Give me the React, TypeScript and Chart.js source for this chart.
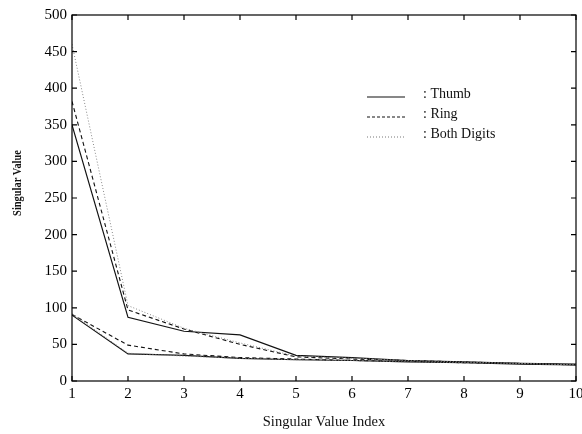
import React, { useEffect, useRef } from "react";
import { Chart, registerables } from "chart.js";

Chart.register(...registerables);

const indices = [1, 2, 3, 4, 5, 6, 7, 8, 9, 10];
const thumbUpper = [350, 87, 68, 63, 35, 32, 28, 26, 24, 23];
const ringUpper = [382, 97, 71, 50, 33, 30, 28, 26, 24, 22];
const bothUpper = [460, 103, 72, 52, 34, 31, 28, 26, 24, 22];
const thumbLower = [90, 37, 35, 31, 29, 28, 26, 25, 23, 22];
const ringLower = [91, 49, 37, 32, 30, 28, 27, 25, 24, 22];
const bothLower = [92, 38, 34, 31, 29, 28, 26, 25, 24, 22];
const legendLabels = [": Thumb", ": Ring", ": Both Digits"];
const yTitle = "Singular Value";
const xTitle = "Singular Value Index";

const FONT = "'Liberation Serif', 'DejaVu Serif', serif";

const toPts = (ys: number[]) => indices.map((x, i) => ({ x, y: ys[i] }));

const boxPlugin = {
  id: "boxTicks",
  afterDraw(chart: any) {
    const { ctx, chartArea, scales } = chart;
    const { left, right, top, bottom } = chartArea;
    ctx.save();
    ctx.strokeStyle = "#000";
    ctx.lineWidth = 1.2;
    ctx.strokeRect(left, top, right - left, bottom - top);
    const tl = 5;
    ctx.beginPath();
    for (const v of indices) {
      const px = scales.x.getPixelForValue(v);
      ctx.moveTo(px, bottom);
      ctx.lineTo(px, bottom - tl);
      ctx.moveTo(px, top);
      ctx.lineTo(px, top + tl);
    }
    for (let v = 0; v <= 500; v += 50) {
      const py = scales.y.getPixelForValue(v);
      ctx.moveTo(left, py);
      ctx.lineTo(left + tl, py);
      ctx.moveTo(right, py);
      ctx.lineTo(right - tl, py);
    }
    ctx.stroke();

    // legend
    const styles = [
      { dash: [], color: "#111", w: 1.2 },
      { dash: [3, 2], color: "#111", w: 1 },
      { dash: [1, 2], color: "#777", w: 1 },
    ];
    ctx.font = `14px ${FONT}`;
    ctx.textBaseline = "middle";
    ctx.fillStyle = "#111";
    legendLabels.forEach((lab, i) => {
      const y = 94 + i * 20;
      ctx.beginPath();
      ctx.setLineDash(styles[i].dash);
      ctx.strokeStyle = styles[i].color;
      ctx.lineWidth = styles[i].w;
      ctx.moveTo(367, y + 3);
      ctx.lineTo(405, y + 3);
      ctx.stroke();
      ctx.setLineDash([]);
      ctx.fillText(lab, 423, y);
    });

    // y title
    ctx.save();
    ctx.translate(18, 183);
    ctx.rotate(-Math.PI / 2);
    ctx.scale(0.8, 1);
    ctx.font = `bold 13px ${FONT}`;
    ctx.textAlign = "center";
    ctx.textBaseline = "middle";
    ctx.fillStyle = "#111";
    ctx.fillText(yTitle, 0, 0);
    ctx.restore();

    // x title
    ctx.font = `14.5px ${FONT}`;
    ctx.textAlign = "center";
    ctx.textBaseline = "middle";
    ctx.fillStyle = "#111";
    ctx.fillText(xTitle, 324, 422);
    ctx.restore();
  },
};

export default function App() {
  const ref = useRef<HTMLCanvasElement>(null);
  useEffect(() => {
    if (!ref.current) return;
    const mk = (label: string, ys: number[], dash: number[], color: string, w: number) => ({
      label,
      data: toPts(ys),
      showLine: true,
      borderColor: color,
      borderWidth: w,
      borderDash: dash,
      pointRadius: 0,
      tension: 0,
      fill: false,
    });
    const chart = new Chart(ref.current, {
      type: "scatter",
      data: {
        datasets: [
          mk("Both Digits", bothUpper, [1, 2], "#888", 1),
          mk("Both Digits", bothLower, [1, 2], "#888", 1),
          mk("Ring", ringUpper, [4, 3], "#111", 1.1),
          mk("Ring", ringLower, [4, 3], "#111", 1.1),
          mk("Thumb", thumbUpper, [], "#111", 1.2),
          mk("Thumb", thumbLower, [], "#111", 1.2),
        ],
      },
      options: {
        animation: false,
        responsive: false,
        layout: { padding: { top: 15, right: 6, left: 0, bottom: 0 } },
        plugins: { legend: { display: false }, tooltip: { enabled: false } },
        scales: {
          x: {
            type: "linear",
            min: 1,
            max: 10,
            grid: { display: false, drawTicks: false },
            border: { display: false },
            ticks: {
              stepSize: 1,
              color: "#000",
              font: { family: FONT, size: 15 },
              padding: 4,
            },
            afterFit: (s: any) => {
              s.height = 53;
              s.paddingRight = 0;
              s.paddingLeft = 0;
            },
          },
          y: {
            min: 0,
            max: 500,
            grid: { display: false, drawTicks: false },
            border: { display: false },
            ticks: {
              stepSize: 50,
              color: "#000",
              font: { family: FONT, size: 15 },
              padding: 5,
            },
            afterFit: (s: any) => {
              s.width = 72;
              s.paddingTop = 0;
              s.paddingBottom = 0;
            },
          },
        },
      },
      plugins: [boxPlugin],
    });
    return () => chart.destroy();
  }, []);
  return (
    <div style={{ position: "fixed", left: 0, top: 0, width: 582, height: 434, background: "#fff" }}>
      <canvas ref={ref} width={582} height={434} style={{ width: 582, height: 434 }} />
    </div>
  );
}
